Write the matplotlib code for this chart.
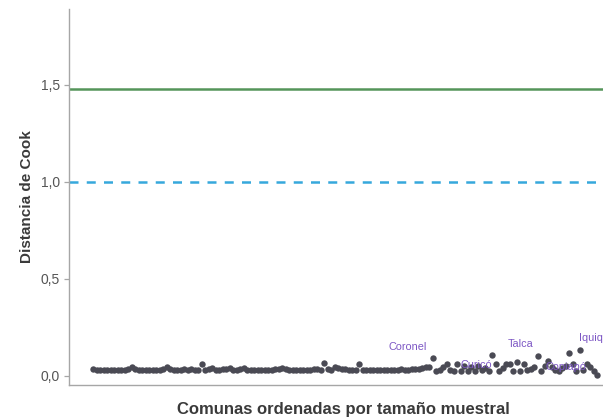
import numpy as np
import matplotlib
matplotlib.use("Agg")
import matplotlib.pyplot as plt

plt.rcParams['font.family'] = ['Liberation Sans', 'DejaVu Sans']

# Cook's distance per comuna, ordered by sample size
cook_d = [
    0.032, 0.030, 0.031, 0.029, 0.030, 0.031, 0.029, 0.030, 0.030, 0.031,
    0.034, 0.043, 0.034, 0.030, 0.029, 0.030, 0.031, 0.030, 0.029, 0.031,
    0.034, 0.043, 0.035, 0.030, 0.031, 0.029, 0.033, 0.030, 0.036, 0.029,
    0.030, 0.062, 0.030, 0.034, 0.042, 0.031, 0.030, 0.033, 0.035, 0.042,
    0.031, 0.029, 0.034, 0.042, 0.031, 0.030, 0.029, 0.031, 0.030, 0.029,
    0.031, 0.030, 0.033, 0.036, 0.042, 0.032, 0.030, 0.029, 0.031, 0.030,
    0.029, 0.031, 0.030, 0.033, 0.036, 0.030, 0.064, 0.035, 0.031, 0.047,
    0.038, 0.032, 0.036, 0.030, 0.029, 0.031, 0.058, 0.030, 0.029, 0.030,
    0.031, 0.029, 0.030, 0.031, 0.030, 0.029, 0.031, 0.030, 0.032, 0.031,
    0.030, 0.032, 0.033, 0.034, 0.038, 0.043, 0.045, 0.090, 0.026, 0.030,
    0.045, 0.061, 0.030, 0.026, 0.058, 0.026, 0.050, 0.026, 0.045, 0.026,
    0.050, 0.030, 0.040, 0.026, 0.109, 0.061, 0.026, 0.040, 0.061, 0.058,
    0.026, 0.070, 0.026, 0.061, 0.030, 0.035, 0.043, 0.104, 0.026, 0.050,
    0.078, 0.043, 0.030, 0.026, 0.040, 0.052, 0.116, 0.061, 0.026, 0.134,
    0.030, 0.061, 0.045, 0.026, 0.002,
]

# Labelled comunas: name, index in the ordering, text offset (points)
label_names = ["Coronel", "Curicó", "Talca", "Copiapó", "Iquique"]
label_index = [97, 109, 127, 135, 139]
label_offset = [(-18, 8), (1, 4), (-12.5, 8.5), (0, -1), (13, 8.5)]

threshold_green = 1.48
threshold_blue = 1.0
y_ticks = [0.0, 0.5, 1.0, 1.5]
y_tick_labels = ["0,0", "0,5", "1,0", "1,5"]

W, H = 603, 419
fig = plt.figure(figsize=(W / 100, H / 100), dpi=100)
fig.patch.set_facecolor("white")

left_px, bottom_px, top_px, right_px = 69, 385, 9, 618
ax = fig.add_axes([left_px / W, (H - bottom_px) / H,
                   (right_px - left_px) / W, (bottom_px - top_px) / H])
ax.set_facecolor("white")

x = np.arange(len(cook_d))
ax.axhline(threshold_green, color="#55955a", lw=1.8, zorder=2)
bl = ax.axhline(threshold_blue, color="#36a8dc", lw=1.8, zorder=2)
bl.set_dashes((3.6, 3.3))

ax.plot(x, cook_d, "o", color="#4a4a54", markersize=4.6,
        markeredgewidth=0, zorder=3)

for name, idx, off in zip(label_names, label_index, label_offset):
    ax.annotate(name, (x[idx], cook_d[idx]), xytext=off,
                textcoords="offset points", ha="center", va="center",
                fontsize=7.8, color="#7c56c4", zorder=4)

ax.set_xlim(-6.86, 150)
ax.set_ylim(-0.048, 1.890)
ax.set_yticks(y_ticks)
ax.set_yticklabels(y_tick_labels)
ax.set_xticks([])

for side in ("top", "right"):
    ax.spines[side].set_visible(False)
for side in ("left", "bottom"):
    ax.spines[side].set_color("#a6a6a6")
    ax.spines[side].set_linewidth(1.0)

ax.tick_params(axis="y", length=3.5, width=0.9, color="#a6a6a6",
               labelsize=10, labelcolor="#555555", pad=3)

ax.set_ylabel("Distancia de Cook", fontsize=11, fontweight="bold",
              color="#3a3a3a", labelpad=5)
ax.set_xlabel("Comunas ordenadas por tamaño muestral", fontsize=12,
              fontweight="bold", color="#3a3a3a", labelpad=12)

fig.savefig("out.png", dpi=100)
